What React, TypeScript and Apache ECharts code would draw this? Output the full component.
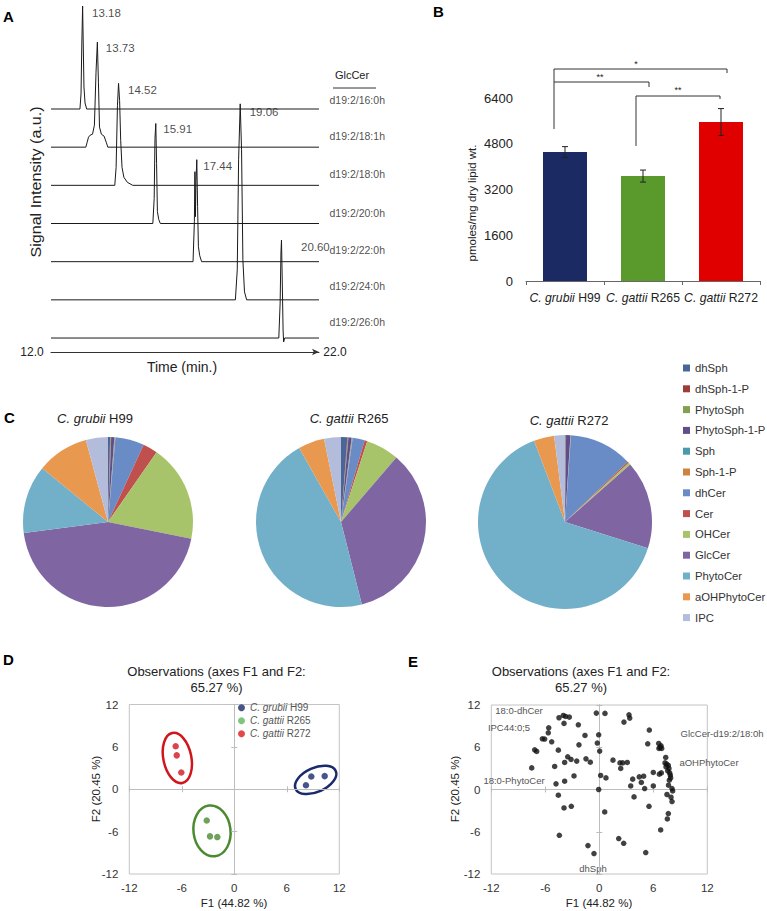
import React, { useEffect, useRef } from "react";
import * as echarts from "echarts";

const FONT = "'Liberation Sans', Arial, Helvetica, sans-serif";

/* ---------------- Panel A: GlcCer chromatograms ---------------- */
const glcCerSpecies = ["d19:2/16:0h", "d19:2/18:1h", "d19:2/18:0h", "d19:2/20:0h", "d19:2/22:0h", "d19:2/24:0h", "d19:2/26:0h"];
const retentionTimes = [13.18, 13.73, 14.52, 15.91, 17.44, 19.06, 20.6];
const timeRange = [12.0, 22.0];
// [time (min), signal (a.u.)] points of each chromatogram peak
const trace16_0h = [[13.08, 0], [13.12, 15], [13.15, 65], [13.18, 103], [13.2, 70], [13.23, 22], [13.27, 6], [13.33, 0]];
const trace18_1h = [[13.3, 0], [13.35, 5], [13.4, 10], [13.46, 12], [13.55, 13], [13.62, 22], [13.68, 75], [13.73, 105], [13.77, 65], [13.81, 20], [13.88, 13], [13.98, 11], [14.06, 5], [14.12, 0]];
const trace18_0h = [[14.38, 0], [14.43, 18], [14.48, 80], [14.52, 102], [14.56, 85], [14.6, 45], [14.65, 18], [14.72, 8], [14.85, 3], [15.05, 0]];
const trace20_0h = [[15.8, 0], [15.85, 25], [15.88, 85], [15.91, 100], [15.94, 60], [15.97, 12], [16.02, 4], [16.08, 0]];
const trace22_0h = [[17.3, 0], [17.35, 40], [17.37, 90], [17.39, 45], [17.41, 80], [17.44, 102], [17.47, 55], [17.5, 15], [17.55, 6], [17.62, 0]];
const trace24_0h = [[18.88, 0], [18.95, 30], [19.0, 140], [19.06, 196], [19.11, 150], [19.16, 40], [19.22, 8], [19.3, 0]];
const trace26_0h = [[20.5, 0], [20.55, 35], [20.58, 85], [20.6, 98], [20.63, 55], [20.66, 8], [20.68, -4], [20.72, 0]];
const chromatograms = [trace16_0h, trace18_1h, trace18_0h, trace20_0h, trace22_0h, trace24_0h, trace26_0h];

/* ---------------- Panel B: total GlcCer ---------------- */
const strains = ["C. grubii H99", "C. gattii R265", "C. gattii R272"];
const glcCerTotals = [4510, 3670, 5560];
const glcCerErrors = [190, 210, 470];
const bTickMax = 6400;
const bTickStep = 1600;

/* ---------------- Panel C: sphingolipid composition (%) ---------------- */
const lipidClasses = ["dhSph", "dhSph-1-P", "PhytoSph", "PhytoSph-1-P", "Sph", "Sph-1-P", "dhCer", "Cer", "OHCer", "GlcCer", "PhytoCer", "aOHPhytoCer", "IPC"];
const h99Composition = [0.4, 0.1, 0.1, 0.6, 0.1, 0.1, 5.5, 2.8, 18.5, 44.8, 13.0, 9.9, 4.2];
const r265Composition = [1.2, 0.1, 0.1, 0.6, 0.1, 0.1, 2.3, 0.5, 6.3, 34.8, 45.8, 5.0, 3.2];
const r272Composition = [0.1, 0.05, 0.05, 0.8, 0.05, 0.05, 11.7, 0.3, 0.4, 16.4, 64.3, 3.8, 2.0];

/* ---------------- Panel D: PCA observations ---------------- */
const pcaH99 = [[8.8, 1.8], [10.33, 1.86], [8.19, 0.57]];
const pcaR265 = [[-3.15, -4.43], [-2.78, -6.67], [-1.94, -6.77]];
const pcaR272 = [[-6.7, 6.09], [-6.58, 4.8], [-6.06, 2.37]];
const pcaAxisTicks = [-12, 12, 6];

/* ---------------- Panel E: PCA variables ---------------- */
const pcaVariables = [
  [-4.48, 10.19], [-4.0, 10.52], [-3.74, 10.38], [-3.33, 10.28], [-3.92, 9.39], [-0.33, 10.85], [-5.62, 8.76], [-5.67, 8.05],
  [-6.33, 7.2], [-6.07, 7.16], [-5.29, 6.77], [-2.33, 9.19], [-1.59, 7.68], [-0.07, 7.77], [-2.26, 6.34], [-0.22, 6.59],
  [-7.18, 5.63], [-6.96, 5.4], [-4.55, 5.59], [0.04, 5.45], [-3.51, 4.64], [-3.14, 4.27], [-3.85, 3.84], [-2.51, 4.03],
  [-1.48, 4.35], [-1.0, 3.88], [-7.51, 3.07], [-4.96, 3.27], [-2.81, 1.93], [0.15, 1.99], [-4.81, 0.8], [-3.85, 1.18],
  [-0.07, 0.0], [-4.55, -0.81], [-3.92, -2.62], [-3.11, -2.38], [-4.44, -6.5], [-1.26, -7.97], [-0.59, -9.1],
  [0.63, 10.81], [2.74, 9.57], [3.3, 10.61], [3.38, 10.14], [5.56, 8.44], [5.38, 6.49], [6.6, 6.54], [6.86, 6.2],
  [6.63, 5.83], [6.93, 5.83], [6.75, 6.0], [1.52, 4.17], [2.3, 3.78], [2.6, 3.78], [3.11, 3.84], [2.38, 2.99],
  [7.38, 4.55], [7.3, 3.78], [7.49, 3.6], [7.67, 3.41], [7.41, 3.22], [7.74, 2.99], [7.6, 2.65], [7.82, 2.36],
  [7.89, 2.03], [7.93, 1.65], [7.78, 1.32], [0.74, 1.65], [3.71, 1.47], [4.44, 1.79], [4.93, 1.89], [4.67, 1.0],
  [3.49, 0.51], [5.04, 0.14], [6.0, 2.42], [6.67, 2.18], [6.89, 2.36], [6.0, 0.51], [8.08, 0.14], [8.15, -0.2],
  [7.69, 0.61], [7.52, -0.71], [7.97, -1.1], [8.08, -1.71], [3.86, -1.05], [5.52, -2.38], [0.6, -3.19], [7.67, -3.41],
  [7.56, -4.18], [6.82, -5.75], [2.16, -6.97], [2.71, -7.64], [5.16, -8.96],
];
const variableLabels = ["18:0-dhCer", "IPC44:0;5", "18:0-PhytoCer", "GlcCer-d19:2/18:0h", "aOHPhytoCer", "dhSph"];
const pcaTitle = ["Observations (axes F1 and F2:", "65.27 %)"];
const pcaAxisNames = ["F1 (44.82 %)", "F2 (20.45 %)"];

/* ---------------- styles / layout ---------------- */
const lipidColors = ["#4a6699", "#9c3d3a", "#84a04f", "#634c8b", "#4a99b0", "#cc8440", "#6a8cc6", "#c0504d", "#a8c46b", "#7f66a3", "#72afc9", "#e8994f", "#b4bcdc"];
const strainColors = ["#1b2a63", "#5a9a2c", "#e00000"];
const pcaColors = ["#1a2a6c", "#4b8b2f", "#d0161b"];
const pcaLegendColors = ["#1a2a6c", "#5cb85c", "#dc1a1a"];
const A_BASE_TOP = 243;
const A_SPACING = 38.17;
const A_LABEL_DY = [-9, -11, -11, -11, -12, -14, -16];
const A_PEAK_DX = [1, 0, 1, -1, -2, 1, 11];
const A_PEAK_DY = [7, 6, 7, 5, 6, 8, 7];
const E_LABEL_POS = [[519, 710], [509, 727.5], [514, 780], [722, 733], [709, 762], [593, 868]];
const D_ELLIPSES = [
  { c: [9.3, 1.32], rx: 22, ry: 12, rot: 0.42 },
  { c: [-2.55, -5.9], rx: 18.5, ry: 25.5, rot: 0.12 },
  { c: [-6.51, 4.43], rx: 14, ry: 25.5, rot: 0.2 },
];

const splitStrain = (s: string) => {
  const k = s.lastIndexOf(" ");
  return [s.slice(0, k), s.slice(k + 1)];
};
const richStrain = (s: string) => {
  const [sp, st] = splitStrain(s);
  return `{i|${sp}} ${st}`;
};

function pcaAxes(grid: number, labelMarginX: number, labelMarginY: number) {
  const [mn, mx, step] = pcaAxisTicks;
  const base = { gridIndex: grid, type: "value", min: mn, max: mx, interval: step, splitLine: { show: false } };
  const line = { color: "#bdbdbd", width: 1 };
  const lbl = { fontSize: 11.5, color: "#333", fontFamily: FONT, formatter: (v: number) => String(v) };
  const x = [
    { ...base, position: "bottom", axisLine: { show: false, onZero: false }, axisTick: { show: false }, axisLabel: { ...lbl, margin: labelMarginX } },
    { ...base, position: "bottom", axisLine: { show: true, onZero: true, lineStyle: line }, axisTick: { show: true, inside: false, length: 3, lineStyle: line }, axisLabel: { show: false } },
    { ...base, position: "bottom", axisLine: { show: true, onZero: true, lineStyle: line }, axisTick: { show: true, inside: true, length: 3, lineStyle: line }, axisLabel: { show: false } },
  ];
  const y = [
    { ...base, position: "left", axisLine: { show: false, onZero: false }, axisTick: { show: false }, axisLabel: { ...lbl, margin: labelMarginY } },
    { ...base, position: "left", axisLine: { show: true, onZero: true, lineStyle: line }, axisTick: { show: true, inside: false, length: 3, lineStyle: line }, axisLabel: { show: false } },
    { ...base, position: "left", axisLine: { show: true, onZero: true, lineStyle: line }, axisTick: { show: true, inside: true, length: 3, lineStyle: line }, axisLabel: { show: false } },
  ];
  return { x, y };
}

function buildOption() {
  const dAxes = pcaAxes(2, 8, 11);
  const eAxes = pcaAxes(3, 8, 11);
  const hidden = { color: "rgba(0,0,0,0)" };

  const traceSeries = chromatograms.map((pts, i) => {
    const base = A_BASE_TOP - i * A_SPACING;
    const full = [[timeRange[0], 0], ...pts, [timeRange[1], 0]];
    return {
      type: "line", name: glcCerSpecies[i], xAxisIndex: 0, yAxisIndex: 0, silent: true,
      data: full.map(([t, v]) => [t, base + v]),
      symbol: "none", lineStyle: { color: "#1a1a1a", width: 1 },
    };
  });

  const peakLabelStyle = { show: true, position: "right", distance: 8, fontSize: 11.5, color: "#1a1a1a", textBorderWidth: 0, fontFamily: FONT };
  const peakLabels = {
    type: "scatter", name: "peak labels", xAxisIndex: 0, yAxisIndex: 0, silent: true, symbolSize: 1, itemStyle: hidden,
    data: retentionTimes.map((t, i) => {
      const apex = Math.max(...chromatograms[i].map((p) => p[1]));
      return { value: [t, A_BASE_TOP - i * A_SPACING + apex], label: { ...peakLabelStyle, offset: [A_PEAK_DX[i], A_PEAK_DY[i]] } };
    }),
    label: { ...peakLabelStyle, formatter: (p: any) => p.value[0].toFixed(2) },
  };

  const speciesLabelStyle = { show: true, position: "right", distance: 10, fontSize: 10.5, color: "#1a1a1a", textBorderWidth: 0, fontFamily: FONT };
  const speciesLabels = {
    type: "scatter", name: "species labels", xAxisIndex: 0, yAxisIndex: 0, silent: true, symbolSize: 1, itemStyle: hidden,
    data: glcCerSpecies.map((s, i) => ({ name: s, value: [timeRange[1], A_BASE_TOP - i * A_SPACING], label: { ...speciesLabelStyle, offset: [0, A_LABEL_DY[i]] } })),
    label: { ...speciesLabelStyle, formatter: "{b}" },
  };

  const pie = (center: number[], radius: number, values: number[], name: string) => ({
    type: "pie", name, center, radius, silent: true, startAngle: 90, clockwise: true,
    label: { show: false }, labelLine: { show: false }, itemStyle: { borderWidth: 0 },
    data: lipidClasses.map((n, i) => ({ name: n, value: values[i] })),
  });

  const pcaSeries = [pcaH99, pcaR265, pcaR272].map((pts, i) => ({
    type: "scatter", name: strains[i], xAxisIndex: 4, yAxisIndex: 4, silent: true, symbolSize: 6.5,
    itemStyle: { color: pcaLegendColors[i] },
    data: pts.map((p) => ({ value: p, itemStyle: { color: pcaColors[i] } })),
    z: 5,
  }));

  return {
    animation: false,
    color: lipidColors,
    textStyle: { fontFamily: FONT },
    grid: [
      { left: 51, top: 0, width: 268, height: 352 },
      { left: 526, top: 98, width: 234, height: 183 },
      { left: 129.3, top: 704.5, width: 210, height: 169.5, show: true, borderColor: "#c4c4c4", borderWidth: 1 },
      { left: 491.3, top: 705, width: 216, height: 169, show: true, borderColor: "#c4c4c4", borderWidth: 1 },
    ],
    xAxis: [
      {
        gridIndex: 0, type: "value", min: timeRange[0], max: timeRange[1], position: "bottom",
        axisLine: { show: true, onZero: false, symbol: ["none", "arrow"], symbolSize: [5, 7], lineStyle: { color: "#333", width: 1 } },
        axisTick: { show: false }, axisLabel: { show: false }, splitLine: { show: false },
      },
      {
        gridIndex: 1, type: "category", data: strains, position: "bottom",
        axisLine: { show: true, lineStyle: { color: "#666" } },
        axisTick: { show: true, length: 4, lineStyle: { color: "#666" } },
        axisLabel: {
          interval: 0, hideOverlap: false,
          margin: 11, fontSize: 12.2, color: "#222", fontFamily: FONT, formatter: (v: string) => richStrain(v),
          rich: { i: { fontStyle: "italic", fontSize: 12.2, color: "#222", fontFamily: FONT } },
        },
      },
      ...dAxes.x,
      ...eAxes.x,
    ],
    yAxis: [
      { gridIndex: 0, type: "value", min: 0, max: 352, show: false },
      {
        gridIndex: 1, type: "value", min: 0, max: bTickMax, interval: bTickStep,
        axisLine: { show: false }, axisTick: { show: false }, splitLine: { show: false },
        axisLabel: { fontSize: 13, color: "#222", margin: 13, fontFamily: FONT, formatter: (v: number) => String(v) },
      },
      ...dAxes.y,
      ...eAxes.y,
    ],
    legend: [
      {
        data: lipidClasses, orient: "vertical", left: 683, top: 361, padding: 0, itemWidth: 7, itemHeight: 7, itemGap: 6.8,
        icon: "rect", selectedMode: false, textStyle: { fontSize: 11.3, color: "#333", lineHeight: 14, fontFamily: FONT },
      },
      {
        data: strains, orient: "vertical", left: 238, top: 701.5, padding: 0, itemWidth: 7, itemHeight: 7, itemGap: 0.5,
        icon: "circle", selectedMode: false, formatter: (n: string) => richStrain(n),
        textStyle: {
          fontSize: 10, color: "#555", lineHeight: 12.5, fontFamily: FONT,
          rich: { i: { fontStyle: "italic", fontSize: 10, color: "#555", lineHeight: 12.5, fontFamily: FONT } },
        },
      },
    ],
    series: [
      ...traceSeries,
      peakLabels,
      speciesLabels,
      {
        type: "bar", name: "Total GlcCer", xAxisIndex: 1, yAxisIndex: 1, silent: true, barWidth: 44,
        data: glcCerTotals.map((v, i) => ({ value: v, itemStyle: { color: strainColors[i] } })),
      },
      {
        type: "custom", name: "SD", xAxisIndex: 1, yAxisIndex: 1, silent: true, z: 10,
        data: glcCerTotals.map((v, i) => [i, v, glcCerErrors[i]]),
        encode: { x: 0, y: 1 },
        renderItem: (_params: any, api: any) => {
          const i = api.value(0), v = api.value(1), e = api.value(2);
          const top = api.coord([i, v + e]);
          const bot = api.coord([i, v - e]);
          const w = 3;
          const style = { stroke: "#222", lineWidth: 1 };
          return {
            type: "group",
            children: [
              { type: "line", shape: { x1: top[0], y1: top[1], x2: bot[0], y2: bot[1] }, style },
              { type: "line", shape: { x1: top[0] - w, y1: top[1], x2: top[0] + w, y2: top[1] }, style },
              { type: "line", shape: { x1: bot[0] - w, y1: bot[1], x2: bot[0] + w, y2: bot[1] }, style },
            ],
          };
        },
      },
      pie([108, 522], 85, h99Composition, strains[0] + " composition"),
      pie([341, 522], 85, r265Composition, strains[1] + " composition"),
      pie([565, 522], 87, r272Composition, strains[2] + " composition"),
      ...pcaSeries,
      {
        type: "scatter", name: "Variables", xAxisIndex: 7, yAxisIndex: 7, silent: true, symbolSize: 5.5,
        itemStyle: { color: "#111" }, data: pcaVariables,
      },
    ],
  };
}

function txt(x: number, y: number, text: string, size: number, o: any = {}) {
  const align = o.align || "center";
  const valign = o.valign || "middle";
  const color = o.color || "#222";
  return {
    type: "text", x, y, rotation: o.rotation || 0, scaleX: o.scaleX || 1, silent: true,
    style: {
      text, fontSize: size, fontFamily: FONT, fontWeight: o.bold ? "bold" : "normal", fill: color,
      align, verticalAlign: valign, textAlign: align, textVerticalAlign: valign,
      rich: o.rich ? { i: { fontStyle: "italic", fontSize: size, fontFamily: FONT, fill: color, color } } : undefined,
    },
  };
}

function buildGraphics(chart: any) {
  const els: any[] = [];
  const stroke = { stroke: "#333", lineWidth: 1, fill: "none" };
  // panel letters
  els.push(txt(3, 9, "A", 15, { bold: true, align: "left", valign: "top", color: "#000" }));
  els.push(txt(433, 4, "B", 15, { bold: true, align: "left", valign: "top", color: "#000" }));
  els.push(txt(4, 410, "C", 15, { bold: true, align: "left", valign: "top", color: "#000" }));
  els.push(txt(3, 652, "D", 15, { bold: true, align: "left", valign: "top", color: "#000" }));
  els.push(txt(408, 654, "E", 15, { bold: true, align: "left", valign: "top", color: "#000" }));

  // Panel A annotations
  els.push(txt(36, 182, "Signal Intensity (a.u.)", 14, { rotation: Math.PI / 2, scaleX: 1.15 }));
  els.push(txt(32, 352, timeRange[0].toFixed(1), 12));
  els.push(txt(335, 352, timeRange[1].toFixed(1), 12));
  els.push(txt(182, 367, "Time (min.)", 14));
  els.push(txt(352, 75, "GlcCer", 11));
  els.push({ type: "line", silent: true, shape: { x1: 333, y1: 88, x2: 376, y2: 88 }, style: stroke });

  // Panel B annotations
  els.push(txt(472, 203, "pmoles/mg dry lipid wt.", 11.5, { rotation: Math.PI / 2 }));
  els.push({ type: "polyline", silent: true, shape: { points: [[554, 129], [554, 69], [727, 69], [727, 73]] }, style: stroke });
  els.push({ type: "polyline", silent: true, shape: { points: [[554, 82], [649, 82], [649, 87]] }, style: stroke });
  els.push({ type: "polyline", silent: true, shape: { points: [[636, 146], [636, 96], [720, 96], [720, 99]] }, style: stroke });
  els.push(txt(636, 64, "*", 9));
  els.push(txt(600, 77, "**", 9));
  els.push(txt(678, 90, "**", 9));

  // Panel C titles
  els.push(txt(95, 418, richStrain(strains[0]), 13, { rich: true }));
  els.push(txt(349, 418, richStrain(strains[1]), 13, { rich: true }));
  els.push(txt(569, 420, richStrain(strains[2]), 13, { rich: true }));

  // Panels D and E titles / axis names
  [[216.5, 234, 96], [581, 599, 455]].forEach(([tx, ax, ay]) => {
    els.push(txt(tx, 671, pcaTitle[0], 13));
    els.push(txt(tx, 687, pcaTitle[1], 13));
    els.push(txt(ax, 903, pcaAxisNames[0], 11.5));
    els.push(txt(ay, 789, pcaAxisNames[1], 11.5, { rotation: Math.PI / 2 }));
  });

  // Panel E variable labels
  variableLabels.forEach((l, i) => els.push(txt(E_LABEL_POS[i][0], E_LABEL_POS[i][1], l, 9.5, { color: "#555" })));

  // Panel D group ellipses
  D_ELLIPSES.forEach((e, i) => {
    const p = chart.convertToPixel({ xAxisIndex: 2, yAxisIndex: 2 }, e.c);
    els.push({
      type: "ellipse", silent: true, x: p[0], y: p[1], rotation: e.rot,
      shape: { cx: 0, cy: 0, rx: e.rx, ry: e.ry },
      style: { fill: "none", stroke: pcaColors[i], lineWidth: 2.5 },
    });
  });
  return els;
}

export default function App() {
  const ref = useRef<HTMLDivElement>(null);
  useEffect(() => {
    if (!ref.current) return;
    const chart = echarts.init(ref.current, null, { renderer: "svg" });
    chart.setOption(buildOption() as any);
    chart.setOption({ graphic: { elements: buildGraphics(chart) } } as any);
    return () => chart.dispose();
  }, []);
  return <div ref={ref} style={{ position: "absolute", left: 0, top: 0, width: 767, height: 911, background: "#fff" }} />;
}
